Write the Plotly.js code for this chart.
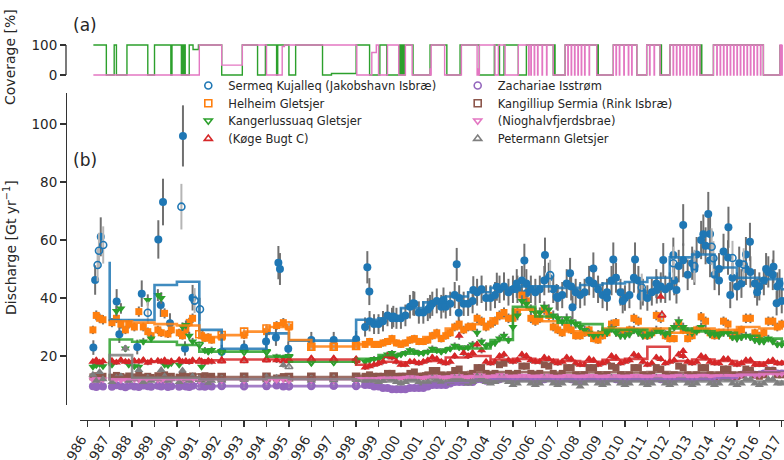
<!DOCTYPE html>
<html><head><meta charset="utf-8">
<script src="https://cdn.plot.ly/plotly-3.0.1.min.js"></script>
<style>html,body{margin:0;padding:0;background:#fff}#chart{width:784px;height:460px}</style>
</head><body><div id="chart"></div>
<script>
// ---------------- DATA ----------------
const seriesNames = ["Sermeq Kujalleq (Jakobshavn Isbræ)", "Helheim Gletsjer", "Kangerlussuaq Gletsjer", "(Køge Bugt C)",
  "Zachariae Isstrøm", "Kangilliup Sermia (Rink Isbræ)", "(Nioghalvfjerdsbrae)", "Petermann Gletsjer"];
const yearTicks = [1986,1987,1988,1989,1990,1991,1992,1993,1994,1995,1996,1997,1998,1999,2000,2001,2002,2003,2004,2005,2006,2007,2008,2009,2010,2011,2012,2013,2014,2015,2016,2017];
const yearLabels = yearTicks.map(String);

// early (Landsat era) sampling times, shared by the non-Jakobshavn glaciers
const earlyYears = [1986.25,1986.4,1986.55,1986.7,1987.1,1987.3,1987.5,1987.7,1987.85,1988.1,1988.3,1988.5,1988.7,1988.85,1989.15,1989.3,1989.45,1989.6,1989.75,1990.1,1990.25,1990.4,1990.55,1990.7,1991.1,1991.25,1991.4,1991.55];
const midYears = [1992,1993,1994,1994.45,1994.75,1995,1996,1997,1998];
const denseYears = [1998.4,1998.6,1998.8,
 1999.0,1999.2,1999.4,1999.6,1999.8, 2000.0,2000.2,2000.4,2000.6,2000.8, 2001.0,2001.2,2001.4,2001.6,2001.8,
 2002.0,2002.2,2002.4,2002.6,2002.8, 2003.0,2003.2,2003.4,2003.6,2003.8, 2004.0,2004.2,2004.4,2004.6,2004.8,
 2005.0,2005.2,2005.4,2005.6,2005.8, 2006.0,2006.2,2006.4,2006.6,2006.8, 2007.0,2007.2,2007.4,2007.6,2007.8,
 2008.0,2008.2,2008.4,2008.6,2008.8, 2009.0,2009.2,2009.4,2009.6,2009.8, 2010.0,2010.2,2010.4,2010.6,2010.8,
 2011.0,2011.2,2011.4,2011.6,2011.8, 2012.0,2012.2,2012.4,2012.6,2012.8, 2013.0,2013.2,2013.4,2013.6,2013.8,
 2014.0,2014.2,2014.4,2014.6,2014.8, 2015.0,2015.2,2015.4,2015.6,2015.8, 2016.0,2016.2,2016.4,2016.6,2016.8,
 2017.0];
const openYears = [1991,1992,1993,1994,1995,1996,1997,1998];
const stepYears = [1987,1988,1989,1990,1991,1992,1993,1994,1995,1996,1997,1998,1999,2000,2001,2002,2003,2004,2005,2006,2007,2008,2009,2010,2011,2012,2013,2014,2015,2016,2017,2018];

// Sermeq Kujalleq (Jakobshavn) — its own sparse early points
const sermeqEarlyX = [1986.27,1986.35,1986.6,1987.31,1987.43,1988.23,1988.43,1989.17,1989.28,1989.38,1989.69,1990.27,1990.36,1990.7,
  1992,1993,1993.98,1994.42,1994.53,1994.6,1994.97,1996,1997,1998];
const sermeqEarlyY = [22.9,46.2,61.1,38.8,27.5,23.1,41.5,60.2,37.6,73.1,31.3,95.9,22.6,40.1,
  21.5,22.9,25,26.4,52.2,50,22.5,25.5,25.5,25.8];
const sermeqDense = [30,32,31, 31,32,34,33,33, 33,34,37,38,35, 35,36,38,39,37, 37,38,41,40,38, 38,39,42,43,40,
  40,41,43,44,42, 43,43,46,45,43, 42,43,46,47,43, 40,41,45,44,42, 41,42,46,45,43, 41,42,46,47,42,
  40,41,47,46,42, 40,42,45,44,43, 44,46,51,53,48, 52,55,60,58,53, 48,50,56,54,47, 44,45,50,49,45,
  44,46,49,48,44, 39];
const sermeqExtraX = [1998.5,1998.59,1999.66,2000.55,2001.3,2001.9,2002.49,2002.58,2003.23,2004.28,2005.17,2005.51,2005.6,2006.43,2006.95,2007.55,2007.66,2008.59,2009.2,2009.48,2009.9,2010.45,2010.7,2011.42,2011.71,2012.16,2012.3,2012.6,2013.1,2013.5,2013.72,2013.8,2014.2,2014.62,2014.7,2015.1,2015.4,2015.58,2015.9,2016.3,2016.63,2016.77,2016.9];
const sermeqExtraY = [50.6,42.2,33.6,38.2,37,39.3,51.6,34.9,42.8,43.9,45,52.9,41.6,54.8,40.4,48.5,36.8,50.2,40,53.3,39,53.3,40.5,42.8,53.1,54.8,42.8,65.2,50,62,69,62.1,46,64.4,41,52,55,59.4,42,50,50.8,38.2,45];
const sermeqOpenX = [1986.46,1986.52,1986.71,1988.7,1990.2,1990.79,1991.03,2006.66,2010.75,2012.16,2013.1,2013.87,2013.95,2014.8,2015.3];
const sermeqOpenY = [51.4,56.3,58.3,34.9,71.5,39.1,36.1,47.9,43.6,52,51,57.7,53.7,53.8,51.5];
const sermeqStep = [52.5,32.4,32.4,44.5,45.6,29,22.5,22.5,27.8,25.3,25.3,25.3,32.5,33,36.5,38.5,40.5,42,43.5,44,44,43.5,44.5,45,45.5,47,54,55,50.5,47,46.5,43];

// Helheim
const helheimEarly = [29,34,33,32.5,31.5,33,31,29,31,30,35.3,30,28.4,27,29,28,34.7,27.6,29,28,27,29,31.6,33,27,26.1,26.5,25.5];
const helheimMid = [26.5,27.2,28.4,30.5,31.5,30,23,23.3,23.5];
const helheimDense = [24,25,24, 24,24.5,25,26,24.5, 24,24.5,25.5,26,25, 25,25.5,27,28,26, 27,28,30,31,29, 30,30,33,32,30,
  31,32,34,35,33, 33,35,41,39,33, 32,33,36,34,30, 29,28,30,29,27, 27,28,29,26,25.5, 27,28,31,31.5,28,
  28,29,33,32,28, 27,28,34,33,27, 26,26,31,29,26, 27,29,33.5,32,28, 27,28,32,31,27, 28,29,33,33,28,
  27,28,32,32,30, 31];
const helheimOpen = [27.5,27.2,28.4,29.5,30.5,23.2,23.2,23.5];
const helheimStep = [32,32,31.5,31,30.5,26.5,27.2,28.4,30,25.5,23.3,23.3,24,24.5,25,26.5,29.5,31,33,36,32,28.5,28,29.5,29.5,29.5,28,29.5,29,30,29.5,31];

// Kangerlussuaq
const kangerEarly = [16.3,16.8,17.2,16.5,17,35.5,36.4,22.6,17,16.5,16.3,25,39.3,26,41,40,17,16.8,17.5,17,30.1,30.7,27,25,16.3,22,21.5,22.1];
const kangerMid = [21.5,21.5,21.5,19.8,19.5,19.8,17.5,17.8,18];
const kangerDense = [18,18.5,19, 19,19.5,20.5,21,20, 20.5,21,22,21.5,21, 21,21.5,22.5,22,21.5, 22,22.5,23.5,23,22.5, 23,24,28,25,23.5,
  24,24.5,26,27,25.5, 30,34,39,38,36, 35,35,37,36,34, 33,32,33,32,31, 30,29,28,27,27.5, 28,28,29.5,28,27,
  27,27.5,29,28,27, 27,27.5,29,28.5,27.5, 28,30,32,30,28.5, 28,28.5,30,29,27.5, 27.5,27,28,28,26.5, 26,26.5,27,26.5,25.5,
  25,25,26,25,24, 24];
const kangerOpen = [24,21.5,21.5,21.5,19.8,18,18,18.3];
const kangerStep = [16.5,25.7,24.9,24.9,23.8,21.5,21.5,21.5,19.8,18,18,18,19,20.3,20.8,21.5,22.6,22.6,25.5,37,33.6,31.5,31,29,29,28,29.5,28.5,28,27,26,25];

// Køge Bugt C
const kogeEarly = [18,18.5,17.8,18.2,18.4,17.8,18.6,18,17.9,18.3,18.1,18.6,17.7,18.2,18.4,18,18.5,17.8,18.2,18.6,18,18.3,17.9,18.5,18.2,17.8,18.4,18];
const kogeMid = [18.5,18.8,19,18.5,18.2,18.6,19.2,19.2,19];
const kogeDense = [16,16.5,17, 17.5,18,20,19.5,18, 17,17,18,18,17.5, 18,18.5,19.5,19,18, 17.5,18,20,27,21, 20,21,24,22,18,
  17.5,18,20,20.5,18.5, 18,18.5,20.5,20,18.5, 18,18,19.5,19,18, 17.5,18,19.5,19,17.5, 17,17,19,18.5,17, 17.5,18,20,19.5,17.5,
  18,18.5,20.5,20,18, 17,17.5,19.5,19,17.5, 18,18.5,20.5,20,18, 17.5,18,20,19.5,18, 17.5,17.5,19,19,17.5, 17,17.5,18.5,18.5,17,
  17,17,18,18.5,17.5, 17.5];
const kogeExtraX = [2011.6,2012.6];
const kogeExtraY = [40.4,21.7];
const kogeOpen = [18.2,18.3,18.4,18.6,18.5,18.7,18.6,18.5];
const kogeStep = [18.2,18.2,18.2,18.2,18.2,18.5,18.8,18.8,18.8,18.8,18.8,18.8,17,18,17.8,18.3,19.5,20,18.8,19,18.7,18.3,18,18.7,19,23.2,18.3,18.8,18.3,17.8,17.7,18];

// Zachariae
const zachEarly = [9.6,9.3,9.8,9.5,9.4,9.9,9.6,9.2,9.7,9.5,9.3,9.8,9.6,9.4,9.7,9.5,9.9,9.3,9.6,9.4,9.8,9.5,9.3,9.7,9.6,9.4,9.8,9.5];
const zachMid = [9.8,9.8,9.6,9.8,9.5,9.6,9.9,9.7,9.8];
const zachDense = [10,10,9.5, 9.5,9,9,8.5,8.5, 8.5,8.5,9,9,9, 9,9.5,10,10,10, 10,10.5,11,11,11, 11,11,12,12,11.5,
  11.5,12,12,12.5,12, 12,12,12.5,12.5,12, 12,11.5,12,12.5,12, 11.5,12,12.5,12,11.5, 11.5,12,12.5,12.5,12, 12,12,12.5,12,11.5,
  11.5,12,12.5,12.5,12, 12,12,12.5,12,12, 12,12,13,12.5,12, 12,12.5,13,13,12.5, 12,12.5,13,13,12.5, 13,13.5,14.5,14.5,13.5,
  13.5,14,15,15,14, 14];
const zachOpen = [9.6,9.7,9.6,9.8,9.6,9.7,9.8,9.7];
const zachStep = [9.6,9.6,9.6,9.6,9.6,9.6,9.6,9.6,9.6,9.6,9.6,9.6,9.5,9,9.3,10,11,11.5,12,12,12,12,12,12,12,12,12,12,12.5,13.5,14.5,14.5];

// Kangilliup Sermia (Rink)
const rinkEarly = [12.8,13.2,12.6,13,12.7,13.3,12.9,12.5,13.1,12.8,13.4,12.7,13,12.6,13.2,12.9,13.5,12.8,13,12.7,13.3,12.9,12.6,13.1,12.8,13.2,12.7,13];
const rinkMid = [12.6,12.7,12.8,12.4,12.9,12.6,12.8,12.7,12.9];
const rinkDense = [13,13.5,13, 13,13,14,14,13, 13,13,14,14.5,13, 13,13.5,15,15,13.5, 13,13.5,15,15.5,13.5, 13,14,16,16,14,
  13.5,14,17,17.5,14, 13.5,14,16.5,16.5,14, 13.5,14,17,16.5,14, 13,14,16,16,13.5, 13,13.5,16,16,13.5, 13,13.5,16.5,16,13.5,
  13,13.5,16,16,13.5, 13,13.5,16,15.5,13.5, 13,13.5,16.5,16,13.5, 13,13.5,16,16,13.5, 13,13.5,15.5,15.5,13.5, 13,13.5,15.5,15,13.5,
  13,13.5,15,15,13.5, 13.5];
const rinkOpen = [12.6,12.7,12.8,12.8,12.7,12.8,12.9,12.8];
const rinkStep = [12.7,12.7,12.7,12.7,12.7,12.7,12.7,12.7,12.7,12.7,12.7,12.7,13.2,13.4,13.8,14,14.2,14.5,14.5,14.5,14.3,14.3,14.4,14.4,14.3,14.5,14.3,14.3,14.2,14.3,14.2,14.2];

// Nioghalvfjerdsbrae
const niogEarly = [11.8,12,11.7,11.9,11.8,12.1,11.7,11.9,11.8,12,11.7,11.9,11.8,12.1,11.8,11.9,11.7,12,11.8,11.9,11.7,12,11.8,11.9,11.8,12,11.7,11.9];
const niogMid = [12,11.9,11.8,11.7,11.9,11.8,12,11.9,12];
const niogDense = [12,12.2,12, 12,12.2,12.5,12.4,12.2, 12.3,12.5,12.8,12.6,12.4, 12.4,12.6,13,12.8,12.5, 12.5,12.7,13,13,12.6, 12.6,12.8,13.5,13.3,12.8,
  12.7,13,13.5,13.2,12.8, 12.8,12.9,13.2,13.1,12.8, 12.8,12.9,13.2,13,12.8, 12.7,12.9,13.1,13,12.8, 12.8,12.9,13.2,13.1,12.8, 12.8,12.9,13.1,13,12.8,
  12.8,12.9,13.2,13.1,12.9, 12.8,12.9,13.1,13,12.8, 12.8,13,13.3,13.2,12.9, 12.9,13,13.3,13.2,12.9, 12.9,13,13.4,13.3,13, 13,13.5,14,14,13.5,
  13.5,14,14.5,14.5,14, 14];
const niogOpen = [11.8,11.9,11.8,11.9,11.8,12,11.9,12];
const niogStep = [12,12,12,12,12,12,12,12,12,12,12,12,12.3,12.5,12.6,12.7,12.8,12.9,12.9,12.9,12.9,12.9,12.9,12.9,12.9,13,13,13,13.2,13.5,13.8,14];

// Petermann
const peterEarly = [13.5,11.5,14.5,12,11,12.5,13,22.6,11.5,12,15.2,11,12.5,11.5,12,15.2,13,11.5,12,11,15,12,11.5,13,11.5,12,10.5,11.5];
const peterMid = [11.5,11.8,11.6,12.5,16.9,12,11.5,11.6,11.8];
const peterDense = [11.5,12,11.5, 11,11.5,12.5,12,11, 10.5,11,12,12,11, 10.5,11,12.5,12,11, 10.5,11,12.5,12.5,11, 10.5,11,13,12.5,11,
  10.5,11,12.5,12.5,11, 10,10.5,12,12,10.5, 10,10.5,12.5,12,10.5, 10,10.5,12,12,10.5, 9.5,10.5,12,12,10.5, 10,10.5,12.5,12,10.5,
  10,10.5,12,12,10.5, 10,10.5,12.5,12,10.5, 10,10.5,12,12.5,10.5, 10,10.5,12,12,10.5, 10,10.5,12.5,12,10.5, 10,10.5,12,12,10.5,
  10,10.5,12,12,10.5, 10.5];
const peterOpen = [12,12,12,12.5,16.3,12,11.8,12];
const peterStep = [11.5,20.3,12.5,12.5,12.5,12,12,12,12.5,12,12,12,11.5,11.2,11.2,11.3,11.5,11.5,11.3,11.2,11.3,11.2,11.2,11.3,11.2,11.3,11.2,11.2,11.3,11.2,11.2,11.2];

// Panel (a): coverage [%]
const covGreenX = [1986.27,1986.85,1987.2,1987.3,1987.77,1988.7,1989.0,1989.73,1989.78,1990.2,1990.22,1990.25,1990.28,1990.31,1990.34,1990.37,1990.55,1990.72,1990.96,1992.0,1992.92,1993.6,1993.95,1994.45,1994.5,1995.0,1995.3,1996.5,1996.9,1998.0,1998.6,
  1999.06,1999.37,1999.95,1999.98,2000.02,2000.06,2000.1,2000.14,2000.18,2000.54,2001.3,2002.05,2002.64,2003.5,2004.17,2004.4,2004.6,
  2005.24,2005.6,2006.8,2006.85,2006.88,2007.33,2008.74,2008.78,2008.81,2009.48,2010.53,2010.97,2011.57,2011.6,2011.63,2012.01,2013.35,2013.4,2013.43,2013.95,2016.18,2016.92];
const covGreenY = [100,0,100,0,100,0,100,0,100,0,100,0,100,0,100,0,100,85,100,0,100,0,100,0,100,0,100,0,5,100,0,
  100,0,100,0,100,0,100,0,100,0,100,0,100,0,100,0,100,0,
  100,0,100,0,100,0,100,0,100,0,100,0,100,0,100,0,100,0,100,0,100,0];
const covPinkX = [1986.27,1991.0,1992.0,1992.92,1994.0,1994.7,1994.8,1998.03,1998.7,1998.9,1999.0,
  1999.4,1999.9,2000.2,2000.5,2001.3,2001.33,2001.35,2001.95,2002.7,2003.4,2003.43,2003.45,2003.5,2004.2,2004.35,2004.65,2005.24,
  2005.6,2005.7,2005.72,2005.8,2005.82,2005.95,2005.97,2006.1,2006.12,2006.3,2006.32,2006.5,2006.52,2006.8,
  2007.33,2007.45,2007.47,2007.6,2007.62,2007.75,2007.77,2007.9,2007.92,2008.05,2008.07,2008.2,2008.22,2008.4,2008.42,2008.74,
  2009.48,2009.6,2009.62,2009.75,2009.77,2009.95,2009.97,2010.15,2010.17,2010.3,2010.32,2010.53,
  2010.97,2011.1,2011.12,2011.3,2011.32,2011.57,
  2012.01,2012.15,2012.17,2012.3,2012.32,2012.45,2012.47,2012.6,2012.62,2012.75,2012.77,2012.9,2012.92,2013.05,2013.07,2013.2,2013.22,2013.35,
  2013.95,2014.1,2014.12,2014.25,2014.27,2014.4,2014.42,2014.55,2014.57,2014.7,2014.72,2014.85,2014.87,2015.0,2015.02,2015.15,2015.17,
  2015.3,2015.32,2015.45,2015.47,2015.6,2015.62,2015.75,2015.77,2015.9,2015.92,2016.05,2016.07,2016.18,
  2016.92,2016.95,2016.97,2017.0,2017.02];
const covPinkY = [0,100,33,100,0,95,100,0,75,100,0,
  100,0,100,0,20,0,100,0,100,0,20,0,100,0,100,0,100,
  100,0,100,0,100,0,100,0,100,0,100,0,100,0,
  100,0,100,0,100,0,100,0,100,0,100,0,100,0,100,0,
  100,0,100,0,100,0,100,0,100,0,100,0,
  100,0,100,0,100,0,
  100,0,100,0,100,0,100,0,100,0,100,0,100,0,100,0,100,0,
  100,0,100,0,100,0,100,0,100,0,100,0,100,0,100,0,100,
  0,100,0,100,0,100,0,100,0,100,0,100,0,
  100,0,100,0,100];

// ---------------- BUILD ----------------
const W = 784, H = 460;
const fx = p => p / W, fy = p => 1 - p / H;
const colors = ["#1f77b4","#ff7f0e","#2ca02c","#d62728","#9467bd","#8c564b","#e377c2","#7f7f7f"];
const openSym = ["circle-open","square-open","triangle-down-open","triangle-up-open","circle-open","square-open","triangle-down-open","triangle-up-open"];
const fillSym = ["circle","square","triangle-down","triangle-up","circle","square","triangle-down","triangle-up"];
const fillSize = [8,7,8,8,8,7,8,8];

const early = [null, helheimEarly, kangerEarly, kogeEarly, zachEarly, rinkEarly, niogEarly, peterEarly];
const mid = [null, helheimMid, kangerMid, kogeMid, zachMid, rinkMid, niogMid, peterMid];
const dense = [sermeqDense, helheimDense, kangerDense, kogeDense, zachDense, rinkDense, niogDense, peterDense];
const opens = [null, helheimOpen, kangerOpen, kogeOpen, zachOpen, rinkOpen, niogOpen, peterOpen];
const steps = [sermeqStep, helheimStep, kangerStep, kogeStep, zachStep, rinkStep, niogStep, peterStep];

const traces = [];
// filled markers with error bars
for (let i = 0; i < 8; i++) {
  let xs, ys;
  if (i === 0) {
    xs = sermeqEarlyX.concat(denseYears, sermeqExtraX);
    ys = sermeqEarlyY.concat(sermeqDense, sermeqExtraY);
  } else {
    xs = earlyYears.concat(midYears, denseYears);
    ys = early[i].concat(mid[i], dense[i]);
    if (i === 3) { xs = xs.concat(kogeExtraX); ys = ys.concat(kogeExtraY); }
  }
  traces.push({
    type: "scatter", mode: "markers", x: xs, y: ys, xaxis: "x", yaxis: "y", showlegend: false, hoverinfo: "skip",
    marker: {symbol: fillSym[i], size: fillSize[i], color: colors[i], line: {width: 0}},
    error_y: {type: "percent", value: i === 0 ? 11 : 5, color: "#707070", thickness: 2, width: 0}
  });
}
// open markers (legend entries)
for (let i = 0; i < 8; i++) {
  let xs = i === 0 ? sermeqOpenX : openYears;
  let ys = i === 0 ? sermeqOpenY : opens[i];
  if (i === 3) { xs = xs.concat([2011.65]); ys = ys.concat([34.1]); }
  traces.push({
    type: "scatter", mode: "markers", x: xs, y: ys, xaxis: "x", yaxis: "y", name: seriesNames[i],
    legend: i === 0 ? "legend" : "legend" + (i + 1), hoverinfo: "skip",
    marker: {symbol: openSym[i], size: 7, color: colors[i], line: {width: 1.6, color: colors[i]}},
    error_y: {type: "percent", value: i === 0 ? 11 : 5, color: "#b5b5b5", thickness: 2, width: 0}
  });
}
// annual step lines
for (let i = 0; i < 8; i++) {
  traces.push({
    type: "scatter", mode: "lines", x: stepYears, y: steps[i], xaxis: "x", yaxis: "y", showlegend: false, hoverinfo: "skip",
    line: {shape: "vh", color: colors[i], width: 2.6}, opacity: 0.85
  });
}
// coverage
traces.push({type: "scatter", mode: "lines", x: covGreenX, y: covGreenY, xaxis: "x2", yaxis: "y2", showlegend: false,
  line: {shape: "hv", color: "#2ca02c", width: 1.4}, hoverinfo: "skip"});
traces.push({type: "scatter", mode: "lines", x: covPinkX, y: covPinkY, xaxis: "x2", yaxis: "y2", showlegend: false,
  line: {shape: "hv", color: "#e377c2", width: 1.4}, hoverinfo: "skip"});

const axisCol = "#333333";
const tickFont = {family: "DejaVu Sans", size: 13.5, color: "#262626"};
const legRows = [85.5, 103.3, 120.8, 138.6];
const legCols = [188.3, 457.7];
const layout = {
  width: W, height: H, margin: {l: 0, r: 0, t: 0, b: 0}, paper_bgcolor: "#ffffff", plot_bgcolor: "rgba(0,0,0,0)",
  font: {family: "DejaVu Sans", color: "#262626"},
  showlegend: true,
  xaxis: {domain: [fx(80), 1], range: [1985.674, 2017.10], anchor: "free", position: fy(420), showgrid: false, zeroline: false,
    showline: true, linecolor: axisCol, linewidth: 1.3, ticks: "outside", ticklen: 6, tickwidth: 1.3, tickcolor: axisCol,
    tickvals: yearTicks, ticktext: yearLabels, tickangle: -60, tickfont: tickFont, automargin: false,
    ticklabeloverflow: "allow", ticklabelstandoff: -1, ticklabelshift: -6},
  yaxis: {domain: [fy(405), fy(93)], range: [3.1, 110.7], anchor: "free", position: fx(66), showgrid: false, zeroline: false,
    showline: true, linecolor: axisCol, linewidth: 1.3, ticks: "outside", ticklen: 6, tickwidth: 1.3, tickcolor: axisCol,
    tickvals: [20, 40, 60, 80, 100], tickfont: tickFont, automargin: false},
  xaxis2: {domain: [fx(80), 1], range: [1985.674, 2017.10], anchor: "y2", matches: "x", visible: false},
  yaxis2: {domain: [fy(78), fy(42)], range: [-10, 110], anchor: "free", position: fx(66), showgrid: false, zeroline: false,
    showline: false, ticks: "outside", ticklen: 6, tickwidth: 1.3, tickcolor: axisCol, tickvals: [0, 100], tickfont: tickFont, automargin: false},
  shapes: [{type: "line", xref: "paper", yref: "y2", x0: fx(66), x1: fx(66), y0: 0, y1: 100, line: {color: axisCol, width: 1.3}}],
  annotations: [
    {text: "(a)", xref: "paper", yref: "paper", x: fx(84.5), y: fy(25.5), xanchor: "center", yanchor: "middle", showarrow: false, font: {family: "DejaVu Sans", size: 17, color: "#262626"}},
    {text: "(b)", xref: "paper", yref: "paper", x: fx(84.5), y: fy(160), xanchor: "center", yanchor: "middle", showarrow: false, font: {family: "DejaVu Sans", size: 17, color: "#262626"}},
    {text: "Coverage [%]", xref: "paper", yref: "paper", x: fx(10), y: fy(57), xanchor: "center", yanchor: "middle", textangle: -90, showarrow: false, font: {family: "DejaVu Sans", size: 14, color: "#262626"}},
    {text: "Discharge [Gt yr<sup>−1</sup>]", xref: "paper", yref: "paper", x: fx(10), y: fy(248), xanchor: "center", yanchor: "middle", textangle: -90, showarrow: false, font: {family: "DejaVu Sans", size: 14, color: "#262626"}}
  ]
};
for (let i = 0; i < 8; i++) {
  const key = i === 0 ? "legend" : "legend" + (i + 1);
  layout[key] = {x: fx(legCols[Math.floor(i / 4)]), y: fy(legRows[i % 4]), xanchor: "left", yanchor: "middle",
    bgcolor: "rgba(0,0,0,0)", borderwidth: 0, font: {family: "DejaVu Sans", size: 11.5, color: "#262626"},
    itemclick: false, itemdoubleclick: false};
}
Plotly.newPlot("chart", traces, layout, {staticPlot: true, displayModeBar: false});
</script></body></html>
